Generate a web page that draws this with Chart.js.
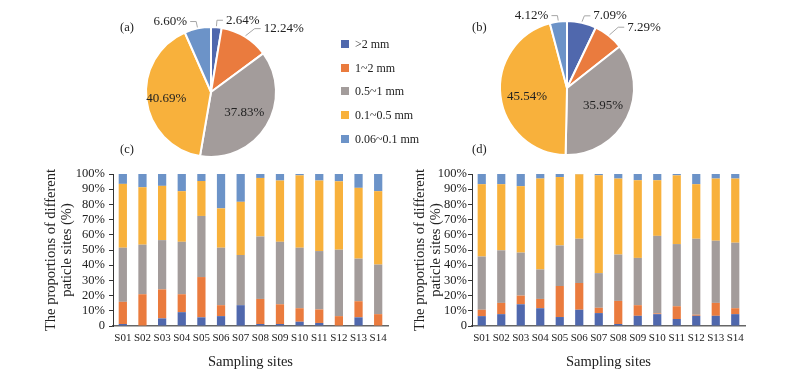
<!DOCTYPE html>
<html><head><meta charset="utf-8">
<script src="https://cdn.jsdelivr.net/npm/chart.js@4.4.1/dist/chart.umd.min.js"></script>
<style>
html,body{margin:0;padding:0;background:#fff;}
body{width:808px;height:382px;position:relative;overflow:hidden;font-family:'Liberation Serif','Times New Roman',serif;color:#222;}
canvas{position:absolute;}
.lab{position:absolute;font-size:12.5px;line-height:14px;height:14px;}
.legrow{position:absolute;left:341px;height:12px;font-size:12px;line-height:12px;white-space:nowrap;}
.legrow span.sw{position:absolute;left:0;top:2px;width:8px;height:8px;}
.legrow span.tx{position:absolute;left:14px;top:0;}
</style>
</head><body>
<canvas id="pieA" width="235" height="165" style="left:100px;top:0px"></canvas>
<canvas id="pieB" width="240" height="165" style="left:460px;top:0px"></canvas>
<canvas id="barC" width="400" height="222" style="left:0px;top:160px"></canvas>
<canvas id="barD" width="408" height="222" style="left:400px;top:160px"></canvas>
<div class="lab" style="left:120px;top:20px">(a)</div>
<div class="lab" style="left:472px;top:20px">(b)</div>
<div class="lab" style="left:120px;top:142px">(c)</div>
<div class="lab" style="left:472px;top:142px">(d)</div>
<div id="legend"></div>
<script>
// ---- data ----
const sites = ['S01','S02','S03','S04','S05','S06','S07','S08','S09','S10','S11','S12','S13','S14'];
const sizeClasses = ['>2 mm','1~2 mm','0.5~1 mm','0.1~0.5 mm','0.06~0.1 mm'];

const pieA = [2.64, 12.24, 37.83, 40.69, 6.60];
const pieB = [7.09, 7.29, 35.95, 45.54, 4.12];

// chart (c)
const c_gt2    = [1.3, 0, 5.0, 9.1, 5.7, 6.5, 13.7, 1.3, 1.3, 2.8, 2.0, 0, 5.7, 0];
const c_1to2   = [14.6, 20.9, 19.1, 11.8, 26.5, 7.2, 0, 16.5, 13.0, 8.9, 8.9, 6.5, 10.6, 7.8];
const c_05to1  = [35.6, 32.6, 32.4, 34.5, 40.2, 37.8, 33.0, 41.1, 41.1, 39.8, 38.4, 43.7, 28.0, 32.6];
const c_01to05 = [42.0, 37.8, 35.7, 33.3, 23.0, 25.9, 35.0, 38.5, 40.3, 47.6, 46.4, 45.0, 46.6, 48.3];
const c_006to01= [6.5, 8.7, 7.8, 11.3, 4.6, 22.6, 18.3, 2.6, 4.3, 0.9, 4.3, 4.8, 9.1, 11.3];

// chart (d)
const d_gt2    = [6.5, 7.8, 14.3, 11.7, 5.9, 10.7, 8.5, 1.3, 6.7, 7.8, 4.6, 6.7, 6.7, 7.8];
const d_1to2   = [4.2, 7.4, 5.7, 6.1, 20.4, 17.6, 3.5, 15.2, 7.0, 0.5, 8.4, 0.7, 8.5, 3.9];
const d_05to1  = [35.0, 34.6, 28.3, 19.4, 26.7, 29.1, 22.8, 30.5, 31.1, 51.0, 40.9, 50.0, 40.9, 43.1];
const d_01to05 = [47.6, 43.5, 43.7, 59.8, 45.0, 42.4, 64.3, 50.0, 51.1, 36.6, 45.2, 35.9, 40.9, 42.2];
const d_006to01= [6.7, 6.7, 8.0, 3.0, 2.0, 0.2, 0.9, 3.0, 4.1, 4.1, 0.9, 6.7, 3.0, 3.0];

const xTitle = 'Sampling sites';
const yTitle = ['The proportions of different', 'paticle sites (%)'];

// ---- styles ----
const colors = ['#5068ad', '#ea7b3e', '#a39c9b', '#f8b13c', '#6c93c8'];
const FONT = "'Liberation Serif', 'Times New Roman', serif";
Chart.defaults.font.family = FONT;
Chart.defaults.color = '#222';

// legend
const leg = document.getElementById('legend');
sizeClasses.forEach((n, i) => {
  const row = document.createElement('div');
  row.className = 'legrow';
  row.style.top = (38 + i * 23.7) + 'px';
  const sw = document.createElement('span'); sw.className = 'sw'; sw.style.background = colors[i];
  const tx = document.createElement('span'); tx.className = 'tx'; tx.textContent = n;
  row.appendChild(sw); row.appendChild(tx); leg.appendChild(row);
});

const pieLabelPlugin = {
  id: 'pieLabels',
  afterDatasetsDraw(chart, args, opts) {
    const ctx = chart.ctx;
    const meta = chart.getDatasetMeta(0);
    const data = chart.data.datasets[0].data;
    ctx.save();
    ctx.font = opts.fontSize + 'px ' + FONT;
    ctx.fillStyle = '#222';
    meta.data.forEach((arc, i) => {
      const p = arc.getProps(['x','y','startAngle','endAngle','outerRadius'], true);
      const mid = (p.startAngle + p.endAngle) / 2;
      const dx = Math.cos(mid), dy = Math.sin(mid);
      const text = data[i].toFixed(2) + '%';
      const nd = (opts.nudges && opts.nudges[i]) || [0, 0];
      if (data[i] >= opts.insideMin) {
        ctx.textAlign = 'center'; ctx.textBaseline = 'middle';
        ctx.fillText(text, p.x + dx * p.outerRadius * opts.insideR + nd[0], p.y + dy * p.outerRadius * opts.insideR + nd[1]);
      } else {
        const r1 = p.outerRadius + 1, r2 = p.outerRadius + opts.elbow;
        const x1 = p.x + dx * r1, y1 = p.y + dy * r1;
        const x2 = p.x + dx * r2 + nd[0], y2 = p.y + dy * r2 + nd[1];
        const side = dx >= 0 ? 1 : -1;
        const x3 = x2 + side * opts.tail;
        ctx.strokeStyle = '#a6a6a6'; ctx.lineWidth = 1;
        ctx.beginPath(); ctx.moveTo(x1, y1); ctx.lineTo(x2, y2); ctx.lineTo(x3, y2); ctx.stroke();
        ctx.textAlign = side > 0 ? 'left' : 'right'; ctx.textBaseline = 'middle';
        ctx.fillText(text, x3 + side * 3, y2);
      }
    });
    ctx.restore();
  }
};

function pieChart(id, values, pad, nudges) {
  return new Chart(document.getElementById(id), {
    type: 'pie',
    data: { labels: sizeClasses, datasets: [{ data: values, backgroundColor: colors, borderColor: '#fff', borderWidth: 2, hoverBorderWidth: 2 }] },
    options: {
      responsive: false, animation: false, events: [],
      layout: { padding: pad },
      plugins: {
        legend: { display: false }, tooltip: { enabled: false },
        pieLabels: { fontSize: 13, insideMin: 20, insideR: 0.6, elbow: 7, tail: 6, nudges: nudges }
      }
    },
    plugins: [pieLabelPlugin]
  });
}

pieChart('pieA', pieA, { left: 45, top: 26, right: 58, bottom: 7 }, [[0,0],[6,-2],[0,0],[-6,2],[0,0]]);
pieChart('pieB', pieB, { left: 39, top: 20, right: 65, bottom: 9 }, [[1,0],[5,-3],[0,0],[0,4],[0,1]]);

function barChart(id, series, o) {
  return new Chart(document.getElementById(id), {
    type: 'bar',
    data: {
      labels: sites,
      datasets: sizeClasses.map((n, i) => ({
        label: n, data: series[i], backgroundColor: colors[i], borderWidth: 0,
        barPercentage: 0.42, categoryPercentage: 1
      }))
    },
    options: {
      responsive: false, animation: false, events: [],
      layout: { padding: { left: 0, right: o.padR, top: 14, bottom: 0 } },
      plugins: { legend: { display: false }, tooltip: { enabled: false } },
      scales: {
        x: {
          stacked: true,
          grid: { display: false, drawTicks: false },
          border: { display: true, color: '#666', width: 1.5 },
          ticks: { autoSkip: false, maxRotation: 0, minRotation: 0, padding: 6, font: { size: 11 }, color: '#222' },
          title: { display: true, text: xTitle, font: { size: 14.5 }, color: '#222', padding: { top: 0, bottom: 11 } },
          afterFit(s) { s.height = 56; }
        },
        y: {
          stacked: true, min: 0, max: 100,
          ticks: { stepSize: 10, autoSkip: false, callback: v => v === 0 ? '0' : v + '%', font: { size: 12.5 }, color: '#222', padding: o.tickPad },
          grid: { drawOnChartArea: false, drawTicks: true, tickLength: 4, color: '#333', lineWidth: 1 },
          border: { display: true, color: '#333', width: 1 },
          title: { display: true, text: yTitle, font: { size: 14.5, lineHeight: 1.1 }, color: '#222', padding: { top: o.titlePad, bottom: 0 } },
          afterFit(s) { s.width = o.yWidth; }
        }
      }
    }
  });
}

barChart('barC', [c_gt2, c_1to2, c_05to1, c_01to05, c_006to01], { padR: 12, yWidth: 113, tickPad: 4, titlePad: 43.5 });
barChart('barD', [d_gt2, d_1to2, d_05to1, d_01to05, d_006to01], { padR: 63, yWidth: 72, tickPad: 1, titlePad: 12 });
</script>
</body></html>
